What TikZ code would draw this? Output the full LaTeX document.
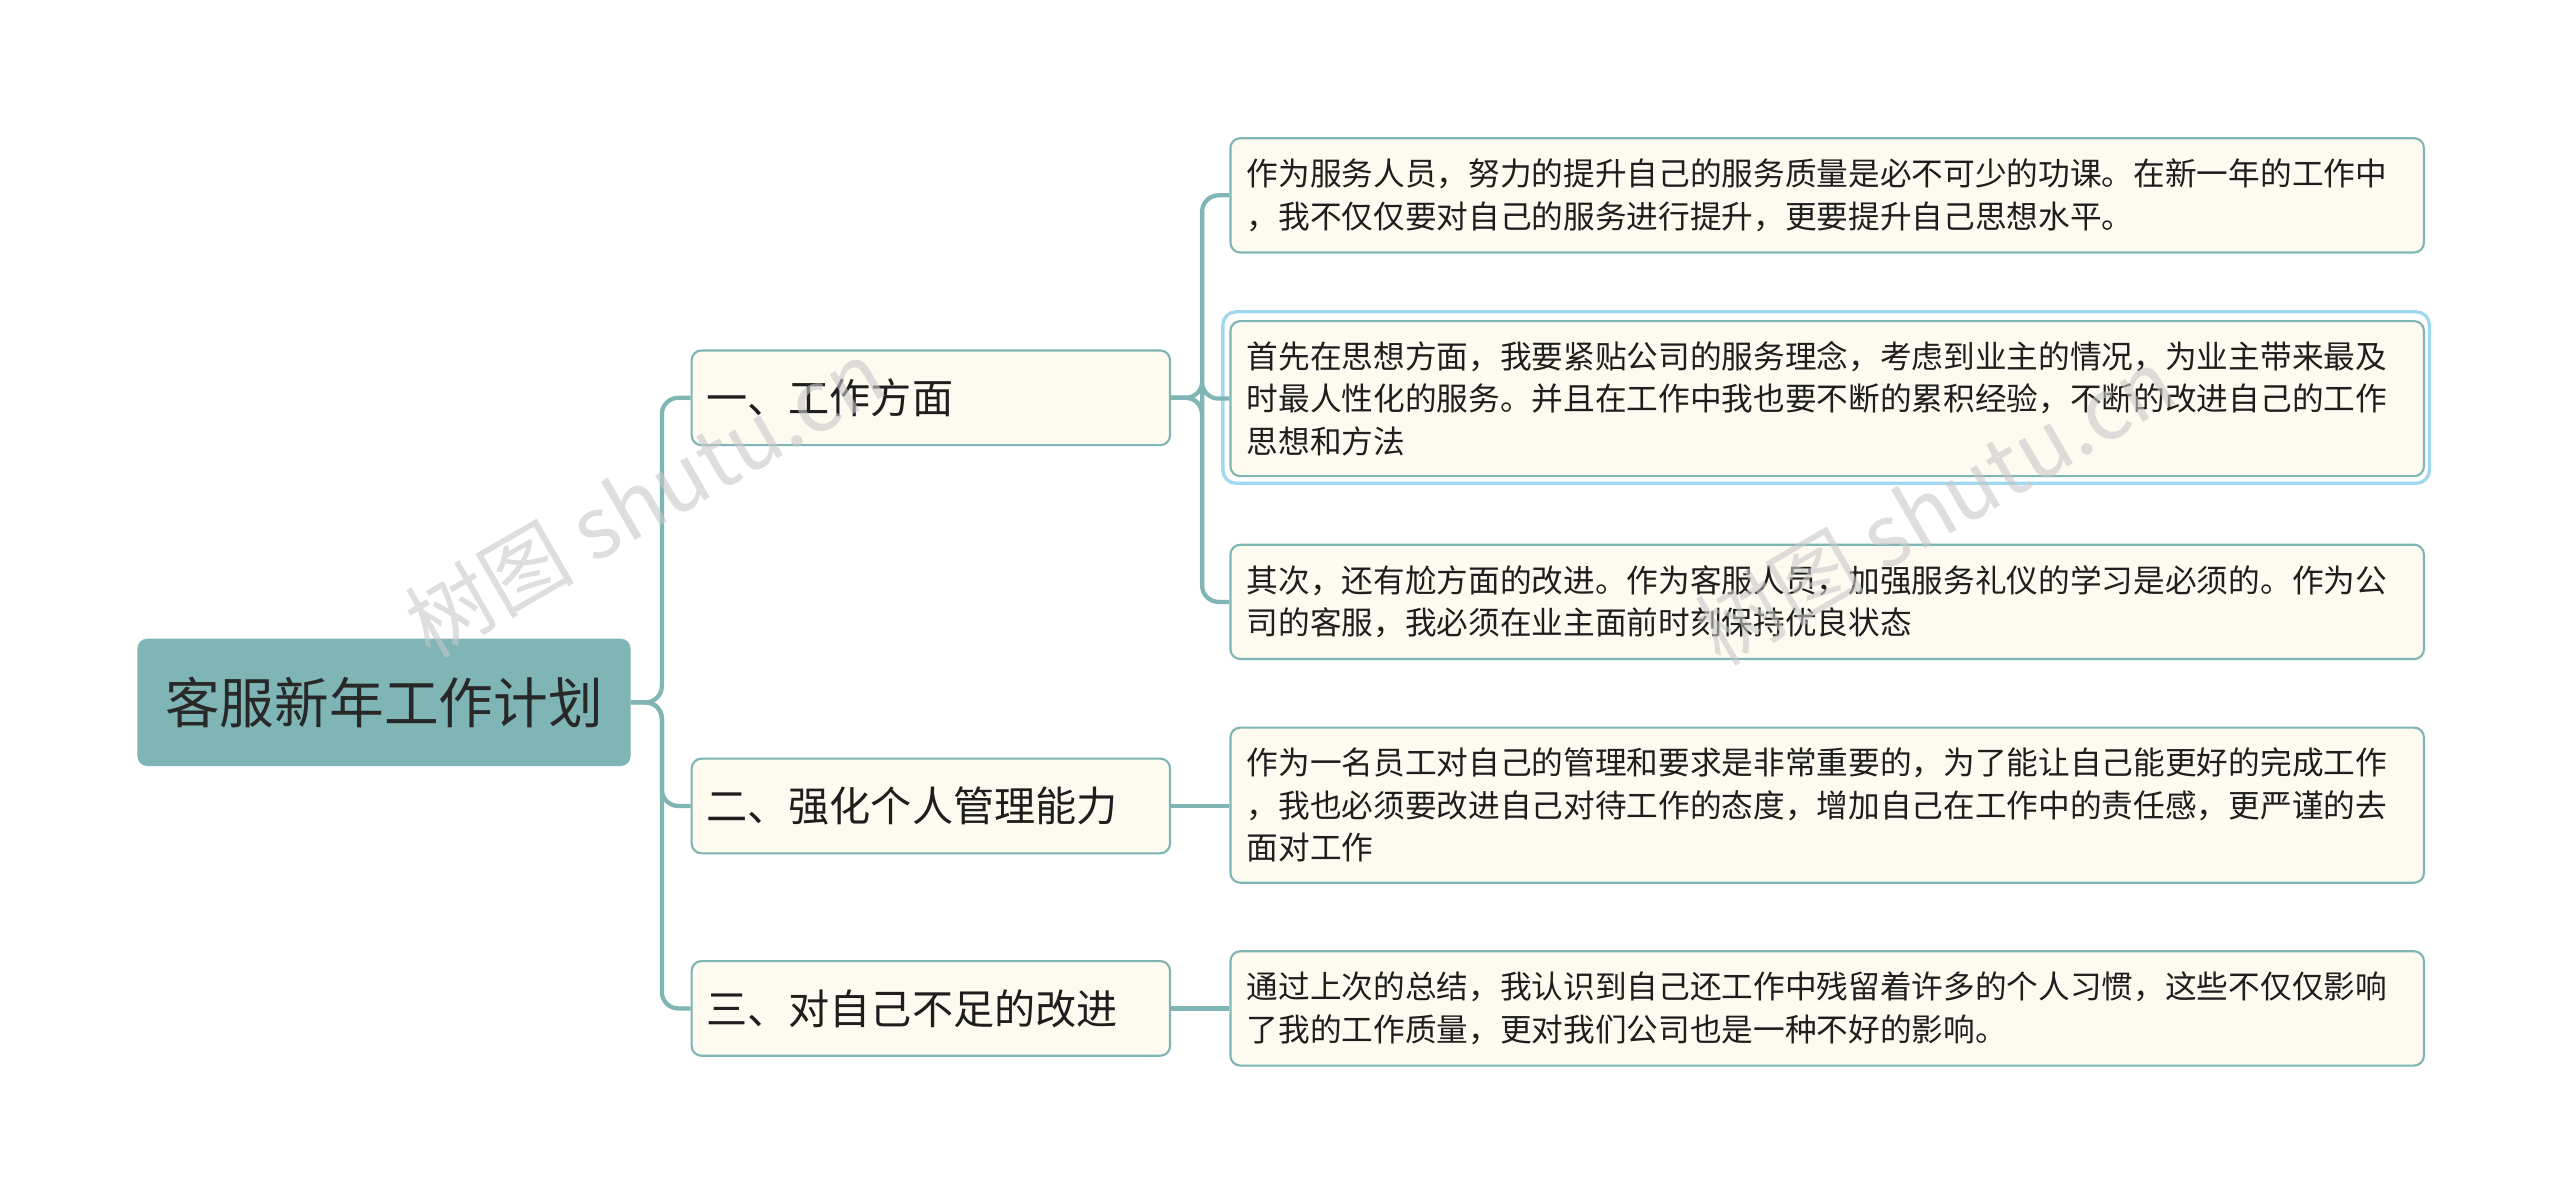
\documentclass[tikz,border=0pt]{standalone}
\usepackage{fontspec}
\setmainfont{Noto Sans CJK SC}
\begin{document}
\begin{tikzpicture}[x=1pt,y=-1pt,
  conn/.style={color={rgb,255:red,127;green,181;blue,181},line width=2.6pt,rounded corners=10pt},
  rootbox/.style={fill={rgb,255:red,127;green,181;blue,181},rounded corners=6pt,minimum width=302pt,minimum height=78pt,anchor=north west,inner sep=0pt,font=\fontsize{33.5}{38}\selectfont,text={rgb,255:red,40;green,40;blue,40}},
  lvbox/.style={fill={rgb,255:red,253;green,250;blue,240},draw={rgb,255:red,127;green,181;blue,181},line width=1.3pt,rounded corners=6pt,minimum width=293pt,minimum height=58pt,anchor=north west,inner sep=0pt,text width=275pt,align=left,font=\fontsize{25.2}{30}\selectfont,text={rgb,255:red,30;green,30;blue,30}},
  leafbox/.style={fill={rgb,255:red,253;green,250;blue,240},draw={rgb,255:red,127;green,181;blue,181},line width=1.3pt,rounded corners=6pt,minimum width=731pt,anchor=north west,inner xsep=10pt,inner ysep=0pt,text width=711pt,align=left,font=\fontsize{19.4}{26}\selectfont,text={rgb,255:red,30;green,30;blue,30}},
  wm/.style={text={rgb,255:red,200;green,200;blue,200},opacity=0.6,font=\fontsize{52}{60}\selectfont,rotate=30}]
\useasboundingbox (0,0) rectangle (1568,736);
\fill[white] (0,0) rectangle (1568,736);
\node[rootbox] (root) at (84,391) {客服新年工作计划};
\node[lvbox] (a) at (423,214) {一、工作方面};
\node[lvbox] (b) at (423,464) {二、强化个人管理能力};
\node[lvbox] (c) at (423,588) {三、对自己不足的改进};
\draw[draw={rgb,255:red,160;green,216;blue,239},line width=2pt,rounded corners=8pt] (749,191) rectangle (1488,296);
\node[leafbox,minimum height=70pt] (l1) at (753,84) {作为服务人员，努力的提升自己的服务质量是必不可少的功课。在新一年的工作中\\，我不仅仅要对自己的服务进行提升，更要提升自己思想水平。};
\node[leafbox,minimum height=95pt] (l2) at (753,196) {首先在思想方面，我要紧贴公司的服务理念，考虑到业主的情况，为业主带来最及\\时最人性化的服务。并且在工作中我也要不断的累积经验，不断的改进自己的工作\\思想和方法};
\node[leafbox,minimum height=70pt] (l3) at (753,333) {其次，还有尬方面的改进。作为客服人员，加强服务礼仪的学习是必须的。作为公\\司的客服，我必须在业主面前时刻保持优良状态};
\node[leafbox,minimum height=95pt] (l4) at (753,445) {作为一名员工对自己的管理和要求是非常重要的，为了能让自己能更好的完成工作\\，我也必须要改进自己对待工作的态度，增加自己在工作中的责任感，更严谨的去\\面对工作};
\node[leafbox,minimum height=70pt] (l5) at (753,582) {通过上次的总结，我认识到自己还工作中残留着许多的个人习惯，这些不仅仅影响\\了我的工作质量，更对我们公司也是一种不好的影响。};
\foreach \t in {a,b,c} \draw[conn] (root.east) -- ++(19,0) |- (\t.west);
\foreach \t in {l1,l2,l3} \draw[conn] (a.east) -- ++(19,0) |- (\t.west);
\draw[conn] (b.east) -- (l4.west |- b.east);
\draw[conn] (c.east) -- (l5.west |- c.east);
\node[wm] (w1) at (395,305) {树图 shutu.cn};
\node[wm] (w2) at (1185,310) {树图 shutu.cn};
\end{tikzpicture}
\end{document}
